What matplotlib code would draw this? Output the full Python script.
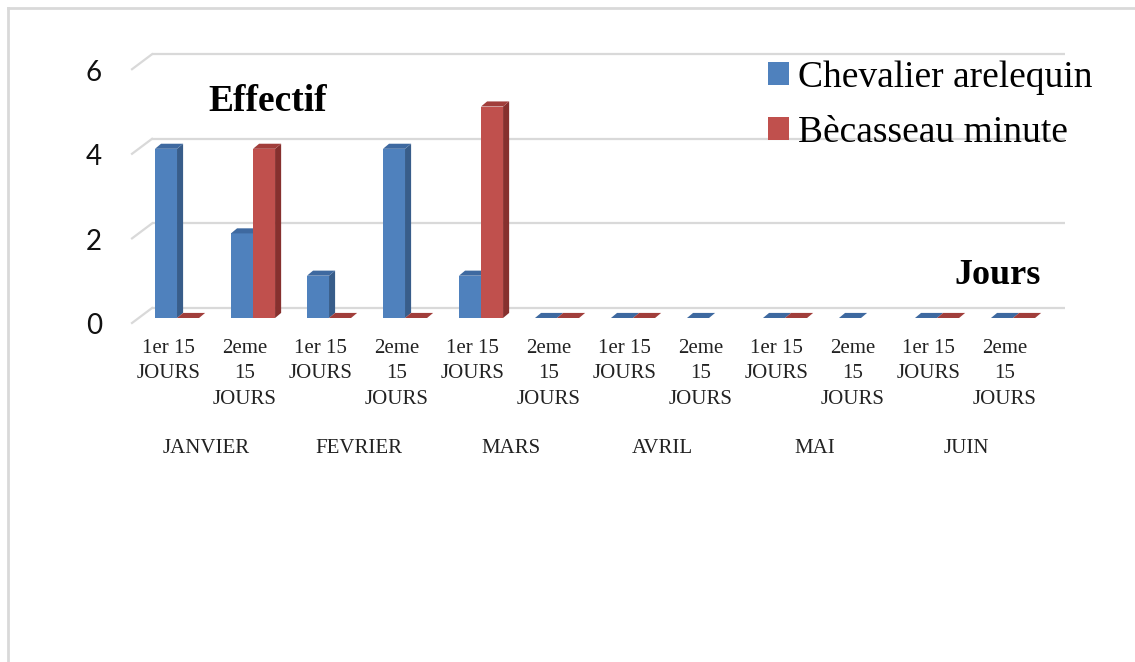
import numpy as np
import matplotlib.pyplot as plt
from matplotlib.patches import Polygon, Patch
from matplotlib.lines import Line2D

# catégories (quinzaines) et effectifs
mois = ['JANVIER', 'FEVRIER', 'MARS', 'AVRIL', 'MAI', 'JUIN']
quinzaines = ['1er 15\nJOURS', '2eme\n15\nJOURS'] * 6
chevalier = [4, 2, 1, 4, 1, 0, 0, 0, 0, 0, 0, 0]
becasseau = [0, 4, 0, 0, 5, 0, 0, np.nan, 0, np.nan, 0, 0]
y_ticks = [0, 2, 4, 6]

serif = 'Liberation Serif'
blue = ('#4F81BD', '#385D8A', '#3E69A0')   # face, côté, dessus
red = ('#C0504D', '#86302E', '#A13E3B')

fig = plt.figure(figsize=(11.35, 6.62), dpi=100)
ax = fig.add_axes([0.089, 0.4877, 0.8705, 0.4792])
ax.set_xlim(-1.0, 12.0)
ax.set_ylim(-0.5, 7.0)
ax.axis('off')

x = np.arange(len(quinzaines))
w = 0.29          # largeur d'une barre
dx, dy = 0.08, 0.12   # profondeur des barres (effet 3D)

# mur du fond : quadrillage + lignes du plancher gauche
back_dy = 0.236
left_front, left_back, right_back = -0.592, -0.329, 11.68
for v in y_ticks:
    ax.plot([left_back, right_back], [v + back_dy, v + back_dy],
            color='#D9D9D9', lw=1.6, zorder=1, solid_capstyle='butt')
    ax.plot([left_front, left_back], [v - 0.118, v + back_dy],
            color='#D9D9D9', lw=1.6, zorder=1)
    ax.text(-0.99, v - 0.2, str(v), ha='right', va='center',
            fontsize=20, family='Lato', color='#111111')


def barre_3d(x0, v, cols, z):
    if np.isnan(v):
        return
    x1 = x0 + w
    ax.bar(x0, v, w, align='edge', color=cols[0], linewidth=0, zorder=z)
    side = [(x1, 0), (x1 + dx, dy), (x1 + dx, v + dy), (x1, v)]
    top = [(x0, v), (x1, v), (x1 + dx, v + dy), (x0 + dx, v + dy)]
    ax.add_patch(Polygon(side, closed=True, facecolor=cols[1], lw=0, zorder=z))
    ax.add_patch(Polygon(top, closed=True, facecolor=cols[2], lw=0, zorder=z))


for i in x:
    barre_3d(i - w, chevalier[i], blue, 3 + 2 * i)
    barre_3d(i, becasseau[i], red, 4 + 2 * i)

# étiquettes des quinzaines et des mois
for i, lab in enumerate(quinzaines):
    ax.text(i - 0.11, -0.5, lab, ha='center', va='top', fontsize=15,
            family=serif, linespacing=1.45, color='#222222')
for k, m in enumerate(mois):
    ax.text(2 * k + 0.39, -3.08, m, ha='center', va='center', fontsize=15,
            family=serif, color='#222222')

ax.text(0.41, 5.12, 'Effectif', ha='left', va='center', fontsize=27,
        family=serif, fontweight='bold')
ax.text(11.36, 1.0, 'Jours', ha='right', va='center', fontsize=26,
        family=serif, fontweight='bold')

handles = [Patch(facecolor=blue[0]), Patch(facecolor=red[0])]
fig.legend(handles, ['Chevalier arelequin', 'Bècasseau minute'],
           loc='upper left', bbox_to_anchor=(0.677, 0.909), frameon=False,
           prop={'family': serif, 'size': 27}, handlelength=0.55,
           handleheight=0.55, handletextpad=0.25, labelspacing=0.55,
           borderpad=0, borderaxespad=0)

# bordure de la zone de graphique
fig.add_artist(Line2D([8 / 1135, 1], [1 - 8 / 662, 1 - 8 / 662],
                      color='#D9D9D9', lw=2, transform=fig.transFigure))
fig.add_artist(Line2D([8 / 1135, 8 / 1135], [0, 1 - 8 / 662],
                      color='#D9D9D9', lw=2, transform=fig.transFigure))

fig.savefig('out.png', dpi=100, facecolor='white')
